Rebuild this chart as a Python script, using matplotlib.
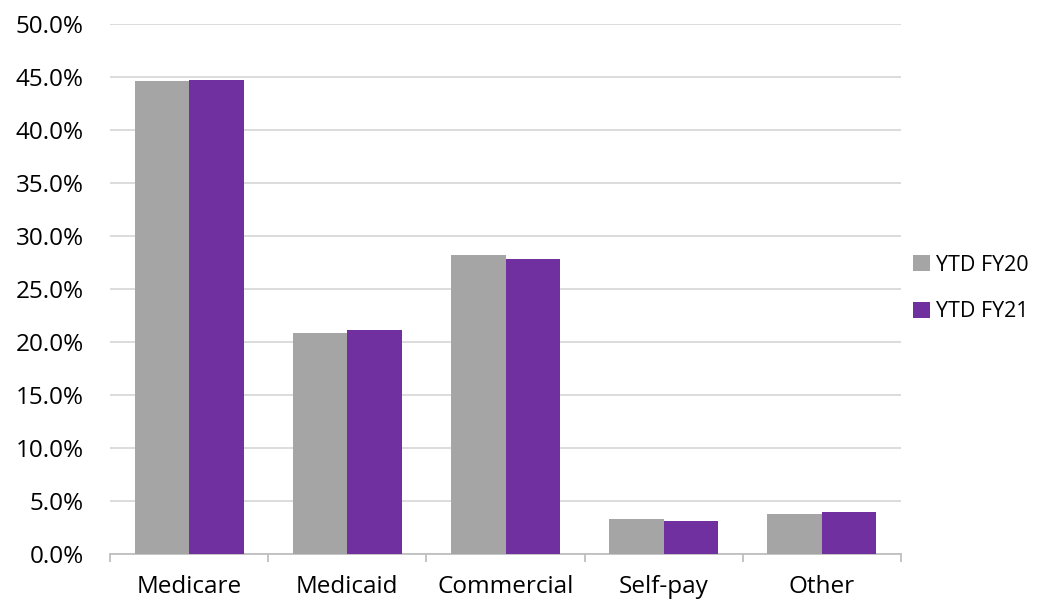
import numpy as np
import matplotlib.pyplot as plt
from matplotlib.ticker import FuncFormatter, MultipleLocator

# payer mix, share of total (%)
categories = ['Medicare', 'Medicaid', 'Commercial', 'Self-pay', 'Other']
fy20 = [44.6, 20.9, 28.2, 3.3, 3.8]
fy21 = [44.7, 21.1, 27.8, 3.1, 4.0]
series_names = ['YTD FY20', 'YTD FY21']

plt.rcParams['font.family'] = ['Open Sans', 'DejaVu Sans']

fig = plt.figure(figsize=(10.38, 6.01), dpi=100)
ax = fig.add_axes([0.106, 0.078, 0.762, 0.882])

x = np.arange(len(categories))
w = 0.345
ax.bar(x - w / 2, fy20, w, color='#a5a5a5', label=series_names[0], zorder=3)
ax.bar(x + w / 2, fy21, w, color='#7030a0', label=series_names[1], zorder=3)

ax.set_xlim(-0.5, len(categories) - 0.5)
ax.set_ylim(0, 50)
ax.yaxis.set_major_locator(MultipleLocator(5))
ax.yaxis.set_major_formatter(FuncFormatter(lambda v, p: '%.1f%%' % v))
ax.grid(axis='y', color='#d9d9d9', lw=1.3, zorder=0)

for s in ['top', 'right', 'left']:
    ax.spines[s].set_visible(False)
ax.spines['bottom'].set_color('#bfbfbf')
ax.spines['bottom'].set_linewidth(1.3)

ax.set_xticks(x)
ax.set_xticklabels(categories, fontsize=17.5)
ax.set_xticks(np.arange(-0.5, len(categories)), minor=True)
ax.tick_params(axis='x', which='major', length=0, pad=15, colors='black')
ax.tick_params(axis='x', which='minor', length=6, color='#bfbfbf', width=1.3)
ax.tick_params(axis='y', length=0, pad=19, labelsize=17.5)
for t in ax.get_yticklabels():
    t.set_color('#000000')

ax.legend(loc='center left', bbox_to_anchor=(0.88, 0.52), bbox_transform=fig.transFigure,
          frameon=False, fontsize=15.5, handlelength=0.75, handleheight=0.75,
          handletextpad=0.3, labelspacing=1.2, borderpad=0, borderaxespad=0)

fig.savefig('out.png', dpi=100)
